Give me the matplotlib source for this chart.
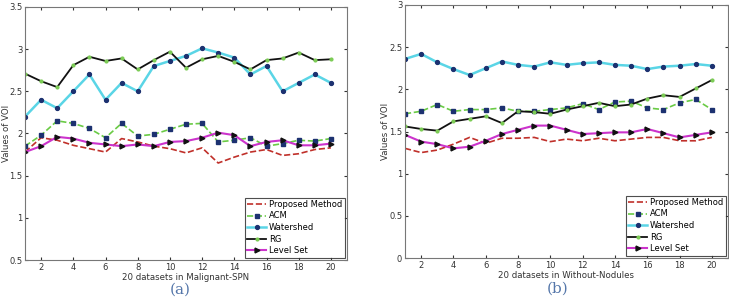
import matplotlib
matplotlib.use("Agg")
import matplotlib.pyplot as plt
import numpy as np

datasets = list(range(1, 21))

# Panel (a): Malignant-SPN
a_proposed = [1.78, 1.95, 1.92, 1.86, 1.82, 1.78, 1.94, 1.90, 1.85, 1.82,
              1.77, 1.83, 1.65, 1.72, 1.78, 1.81, 1.74, 1.76, 1.81, 1.83]
a_acm = [1.85, 1.98, 2.15, 2.12, 2.06, 1.95, 2.12, 1.97, 1.99, 2.05,
         2.11, 2.12, 1.90, 1.92, 1.95, 1.85, 1.88, 1.92, 1.91, 1.94]
a_watershed = [2.20, 2.40, 2.30, 2.50, 2.70, 2.40, 2.60, 2.50, 2.80, 2.86,
               2.92, 3.01, 2.96, 2.90, 2.70, 2.80, 2.50, 2.60, 2.70, 2.60]
a_rg = [2.71, 2.62, 2.55, 2.81, 2.91, 2.86, 2.89, 2.76, 2.87, 2.97,
        2.78, 2.88, 2.92, 2.85, 2.76, 2.87, 2.89, 2.96, 2.87, 2.88]
a_levelset = [1.78, 1.85, 1.96, 1.94, 1.89, 1.87, 1.85, 1.87, 1.85, 1.90,
              1.91, 1.95, 2.01, 1.98, 1.85, 1.90, 1.92, 1.86, 1.86, 1.88]

# Panel (b): Without-Nodules
b_proposed = [1.30, 1.25, 1.28, 1.35, 1.43, 1.36, 1.42, 1.42, 1.43, 1.38,
              1.41, 1.39, 1.42, 1.39, 1.41, 1.43, 1.43, 1.39, 1.39, 1.43]
b_acm = [1.71, 1.74, 1.82, 1.74, 1.76, 1.76, 1.78, 1.74, 1.74, 1.76,
         1.78, 1.83, 1.76, 1.85, 1.86, 1.78, 1.76, 1.84, 1.88, 1.76]
b_watershed = [2.36, 2.42, 2.32, 2.24, 2.17, 2.25, 2.33, 2.29, 2.27, 2.32,
               2.29, 2.31, 2.32, 2.29, 2.28, 2.24, 2.27, 2.28, 2.30, 2.28]
b_rg = [1.56, 1.53, 1.51, 1.62, 1.65, 1.68, 1.60, 1.74, 1.73, 1.71,
        1.76, 1.80, 1.84, 1.80, 1.82, 1.89, 1.93, 1.91, 2.01, 2.11]
b_levelset = [1.46, 1.38, 1.35, 1.30, 1.32, 1.39, 1.47, 1.52, 1.57, 1.57,
              1.52, 1.47, 1.48, 1.49, 1.49, 1.53, 1.48, 1.43, 1.46, 1.49]

series_names = ["Proposed Method", "ACM", "Watershed", "RG", "Level Set"]
xticks = list(range(2, 21, 2))

plt.rcParams['font.family'] = ['DejaVu Sans']
fig = plt.figure(figsize=(7.29, 2.99), dpi=100)

W, H = 729, 299
def add_ax(l, t, r, b):
    return fig.add_axes([l / W, 1 - b / H, (r - l) / W, (b - t) / H])

ax_a = add_ax(25, 7, 347, 260)
ax_b = add_ax(405, 5, 728, 258)

navy = '#1c3170'

def draw(ax, prop, acm, ws, rg, ls, ylim, yticks, xlabel, ylab_x):
    ax.plot(datasets, prop, '--', color='#c0302a', lw=1.2, label=series_names[0])
    ax.plot(datasets, acm, '--', color='#6acb45', lw=1.2, marker='s', ms=2.5,
            mfc=navy, mec=navy, label=series_names[1])
    ax.plot(datasets, ws, '-', color='#5ad5e6', lw=1.8, marker='o', ms=2.8,
            mfc=navy, mec=navy, label=series_names[2])
    ax.plot(datasets, rg, '-', color='#111111', lw=1.3, marker='o', ms=2.0,
            mfc='#7ccc55', mec='#7ccc55', label=series_names[3])
    ax.plot(datasets, ls, '-', color='#cc33cc', lw=1.5, marker='>', ms=3.5,
            mfc='#111111', mec='#111111', label=series_names[4])
    ax.set_xlim(1, 21)
    ax.set_ylim(*ylim)
    ax.set_xticks(xticks)
    ax.set_yticks(yticks)
    ax.set_yticklabels([('%g' % v) for v in yticks])
    ax.tick_params(direction='in', length=2.5, labelsize=6, colors='#333333',
                   top=True, right=True, pad=2)
    for s in ax.spines.values():
        s.set_color('#777777')
        s.set_linewidth(0.8)
    ax.set_xlabel(xlabel, fontsize=6.2, color='#333333', labelpad=1)
    ax.set_ylabel("Values of VOI", fontsize=6.2, color='#333333')
    ax.yaxis.set_label_coords(ylab_x, 0.5)
    leg = ax.legend(loc='lower right', fontsize=6, frameon=True, fancybox=False,
                    borderpad=0.3, labelspacing=0.3, handlelength=2.3,
                    handletextpad=0.3, borderaxespad=0.3)
    leg.get_frame().set_edgecolor('#222222')
    leg.get_frame().set_linewidth(0.8)

draw(ax_a, a_proposed, a_acm, a_watershed, a_rg, a_levelset,
     (0.5, 3.5), [0.5, 1, 1.5, 2, 2.5, 3, 3.5], "20 datasets in Malignant-SPN",
     (11 - 25) / 322)
draw(ax_b, b_proposed, b_acm, b_watershed, b_rg, b_levelset,
     (0, 3), [0, 0.5, 1, 1.5, 2, 2.5, 3], "20 datasets in Without-Nodules",
     (390 - 405) / 323)

fig.text(180 / W, 1 - 290 / H, "(a)", ha='center', va='center', fontsize=11,
         family='DejaVu Serif', color='#5577aa')
fig.text(558 / W, 1 - 289 / H, "(b)", ha='center', va='center', fontsize=11,
         family='DejaVu Serif', color='#5577aa')

fig.savefig("out.png", dpi=100)
